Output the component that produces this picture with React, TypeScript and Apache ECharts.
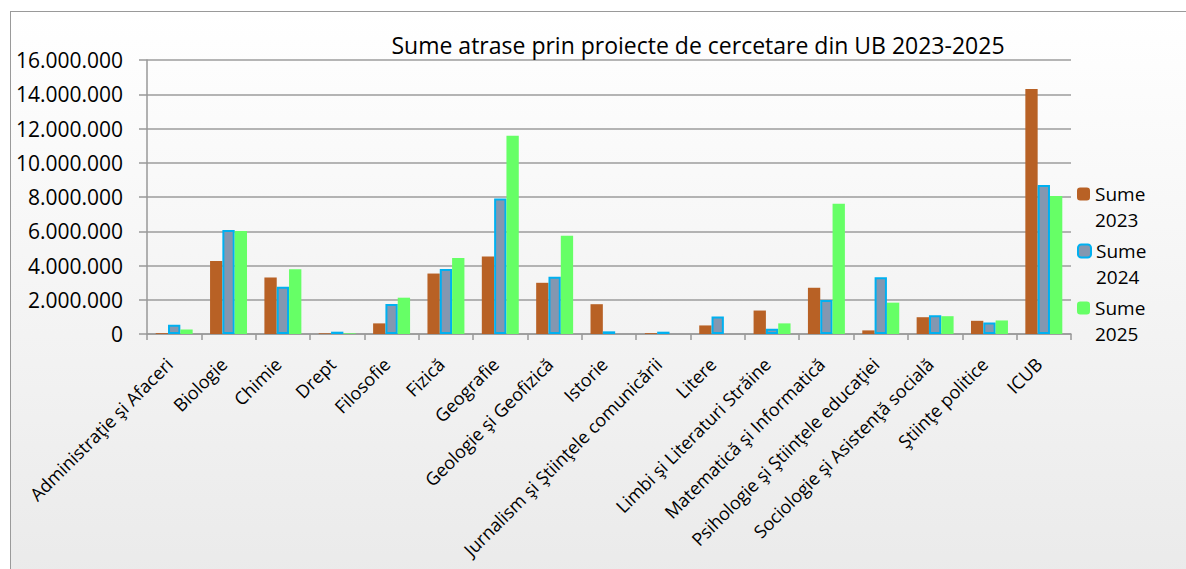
import React, { useEffect, useRef } from "react";
import * as echarts from "echarts";

const categories = [
  "Administraţie şi Afaceri",
  "Biologie",
  "Chimie",
  "Drept",
  "Filosofie",
  "Fizică",
  "Geografie",
  "Geologie şi Geofizică",
  "Istorie",
  "Jurnalism şi Ştiinţele comunicării",
  "Litere",
  "Limbi şi Literaturi Străine",
  "Matematică şi Informatică",
  "Psihologie şi Ştiinţele educaţiei",
  "Sociologie şi Asistenţă socială",
  "Ştiinţe politice",
  "ICUB",
];

const sume2023 = [50000, 4260000, 3300000, 40000, 620000, 3530000, 4530000, 2990000, 1740000, 50000, 500000, 1370000, 2700000, 210000, 980000, 770000, 14300000];
const sume2024 = [540000, 6070000, 2760000, 135000, 1750000, 3800000, 7910000, 3340000, 155000, 135000, 1020000, 310000, 1990000, 3320000, 1100000, 675000, 8700000];
const sume2025 = [270000, 6020000, 3780000, 40000, 2120000, 4440000, 11570000, 5730000, 0, 0, 0, 620000, 7600000, 1830000, 1040000, 790000, 8060000];

const seriesNames = ["Sume 2023", "Sume 2024", "Sume 2025"];
const yTicks = { min: 0, max: 16000000, interval: 2000000 };
const titleText = "Sume atrase prin proiecte de cercetare din UB 2023-2025";

const FONT = "'Open Sans', 'Noto Sans', sans-serif";

function fmt(v: number): string {
  return String(v).replace(/\B(?=(\d{3})+(?!\d))/g, ".");
}

export default function App() {
  const ref = useRef<HTMLDivElement>(null);

  useEffect(() => {
    if (!ref.current) return;
    const chart = echarts.init(ref.current, undefined, { renderer: "svg" });
    const legendTops = [155, 212, 269];
    chart.setOption({
      animation: false,
      backgroundColor: "transparent",
      title: {
        text: titleText,
        left: 693,
        top: 28,
        textAlign: "center",
        textStyle: { fontFamily: FONT, fontSize: 23, fontWeight: "normal", color: "#000" },
      },
      legend: seriesNames.map((n, i) => ({
        data: [n],
        left: 1077,
        top: legendTops[i],
        padding: 0,
        itemWidth: 13,
        itemHeight: 13,
        itemGap: 5,
        formatter: (name: string) => "\n" + name.replace(" ", "\n"),
        textStyle: { fontFamily: FONT, fontSize: 19, color: "#000", lineHeight: 26 },
      })),
      grid: { left: 147, right: 115, top: 60, bottom: 235, containLabel: false },
      xAxis: {
        type: "category",
        data: categories,
        axisLine: { show: true, lineStyle: { color: "#999", width: 1.5 } },
        axisTick: { show: true, length: 6, lineStyle: { color: "#999", width: 1.5 } },
        axisLabel: {
          rotate: 45,
          interval: 0,
          margin: 22,
          padding: [0, 7, 0, 0],
          fontFamily: FONT,
          fontSize: 18,
          color: "#000",
        },
      },
      yAxis: {
        type: "value",
        min: yTicks.min,
        max: yTicks.max,
        interval: yTicks.interval,
        axisLine: { show: true, lineStyle: { color: "#999", width: 1.5 } },
        axisTick: { show: true, length: 8, lineStyle: { color: "#999", width: 1.5 } },
        splitLine: { show: true, lineStyle: { color: "#9c9c9c", width: 1.5 } },
        axisLabel: {
          margin: 24,
          fontFamily: FONT,
          fontSize: 21,
          color: "#000",
          formatter: (v: number) => fmt(v),
        },
      },
      series: [
        {
          name: seriesNames[0],
          type: "bar",
          data: sume2023,
          barGap: "0%",
          barCategoryGap: "32%",
          itemStyle: { color: "#b86125" },
        },
        {
          name: seriesNames[1],
          type: "bar",
          data: sume2024,
          barGap: "0%",
          barCategoryGap: "32%",
          itemStyle: { color: "#8497b0", borderColor: "#00b0f0", borderWidth: 2 },
        },
        {
          name: seriesNames[2],
          type: "bar",
          data: sume2025,
          barGap: "0%",
          barCategoryGap: "32%",
          itemStyle: { color: "#66ff66" },
        },
      ],
    });
    return () => chart.dispose();
  }, []);

  return (
    <div
      style={{
        position: "absolute",
        left: 0,
        top: 0,
        width: 1186,
        height: 569,
        overflow: "hidden",
        background: "#ffffff",
      }}
    >
      <div
        style={{
          position: "absolute",
          left: 10,
          top: 11,
          width: 1200,
          height: 600,
          border: "1px solid #9a9a9a",
          background: "linear-gradient(to bottom, #ffffff 0%, #f6f6f6 40%, #e9e9e9 100%)",
        }}
      />
      <div ref={ref} style={{ position: "absolute", left: 0, top: 0, width: 1186, height: 569 }} />
    </div>
  );
}
